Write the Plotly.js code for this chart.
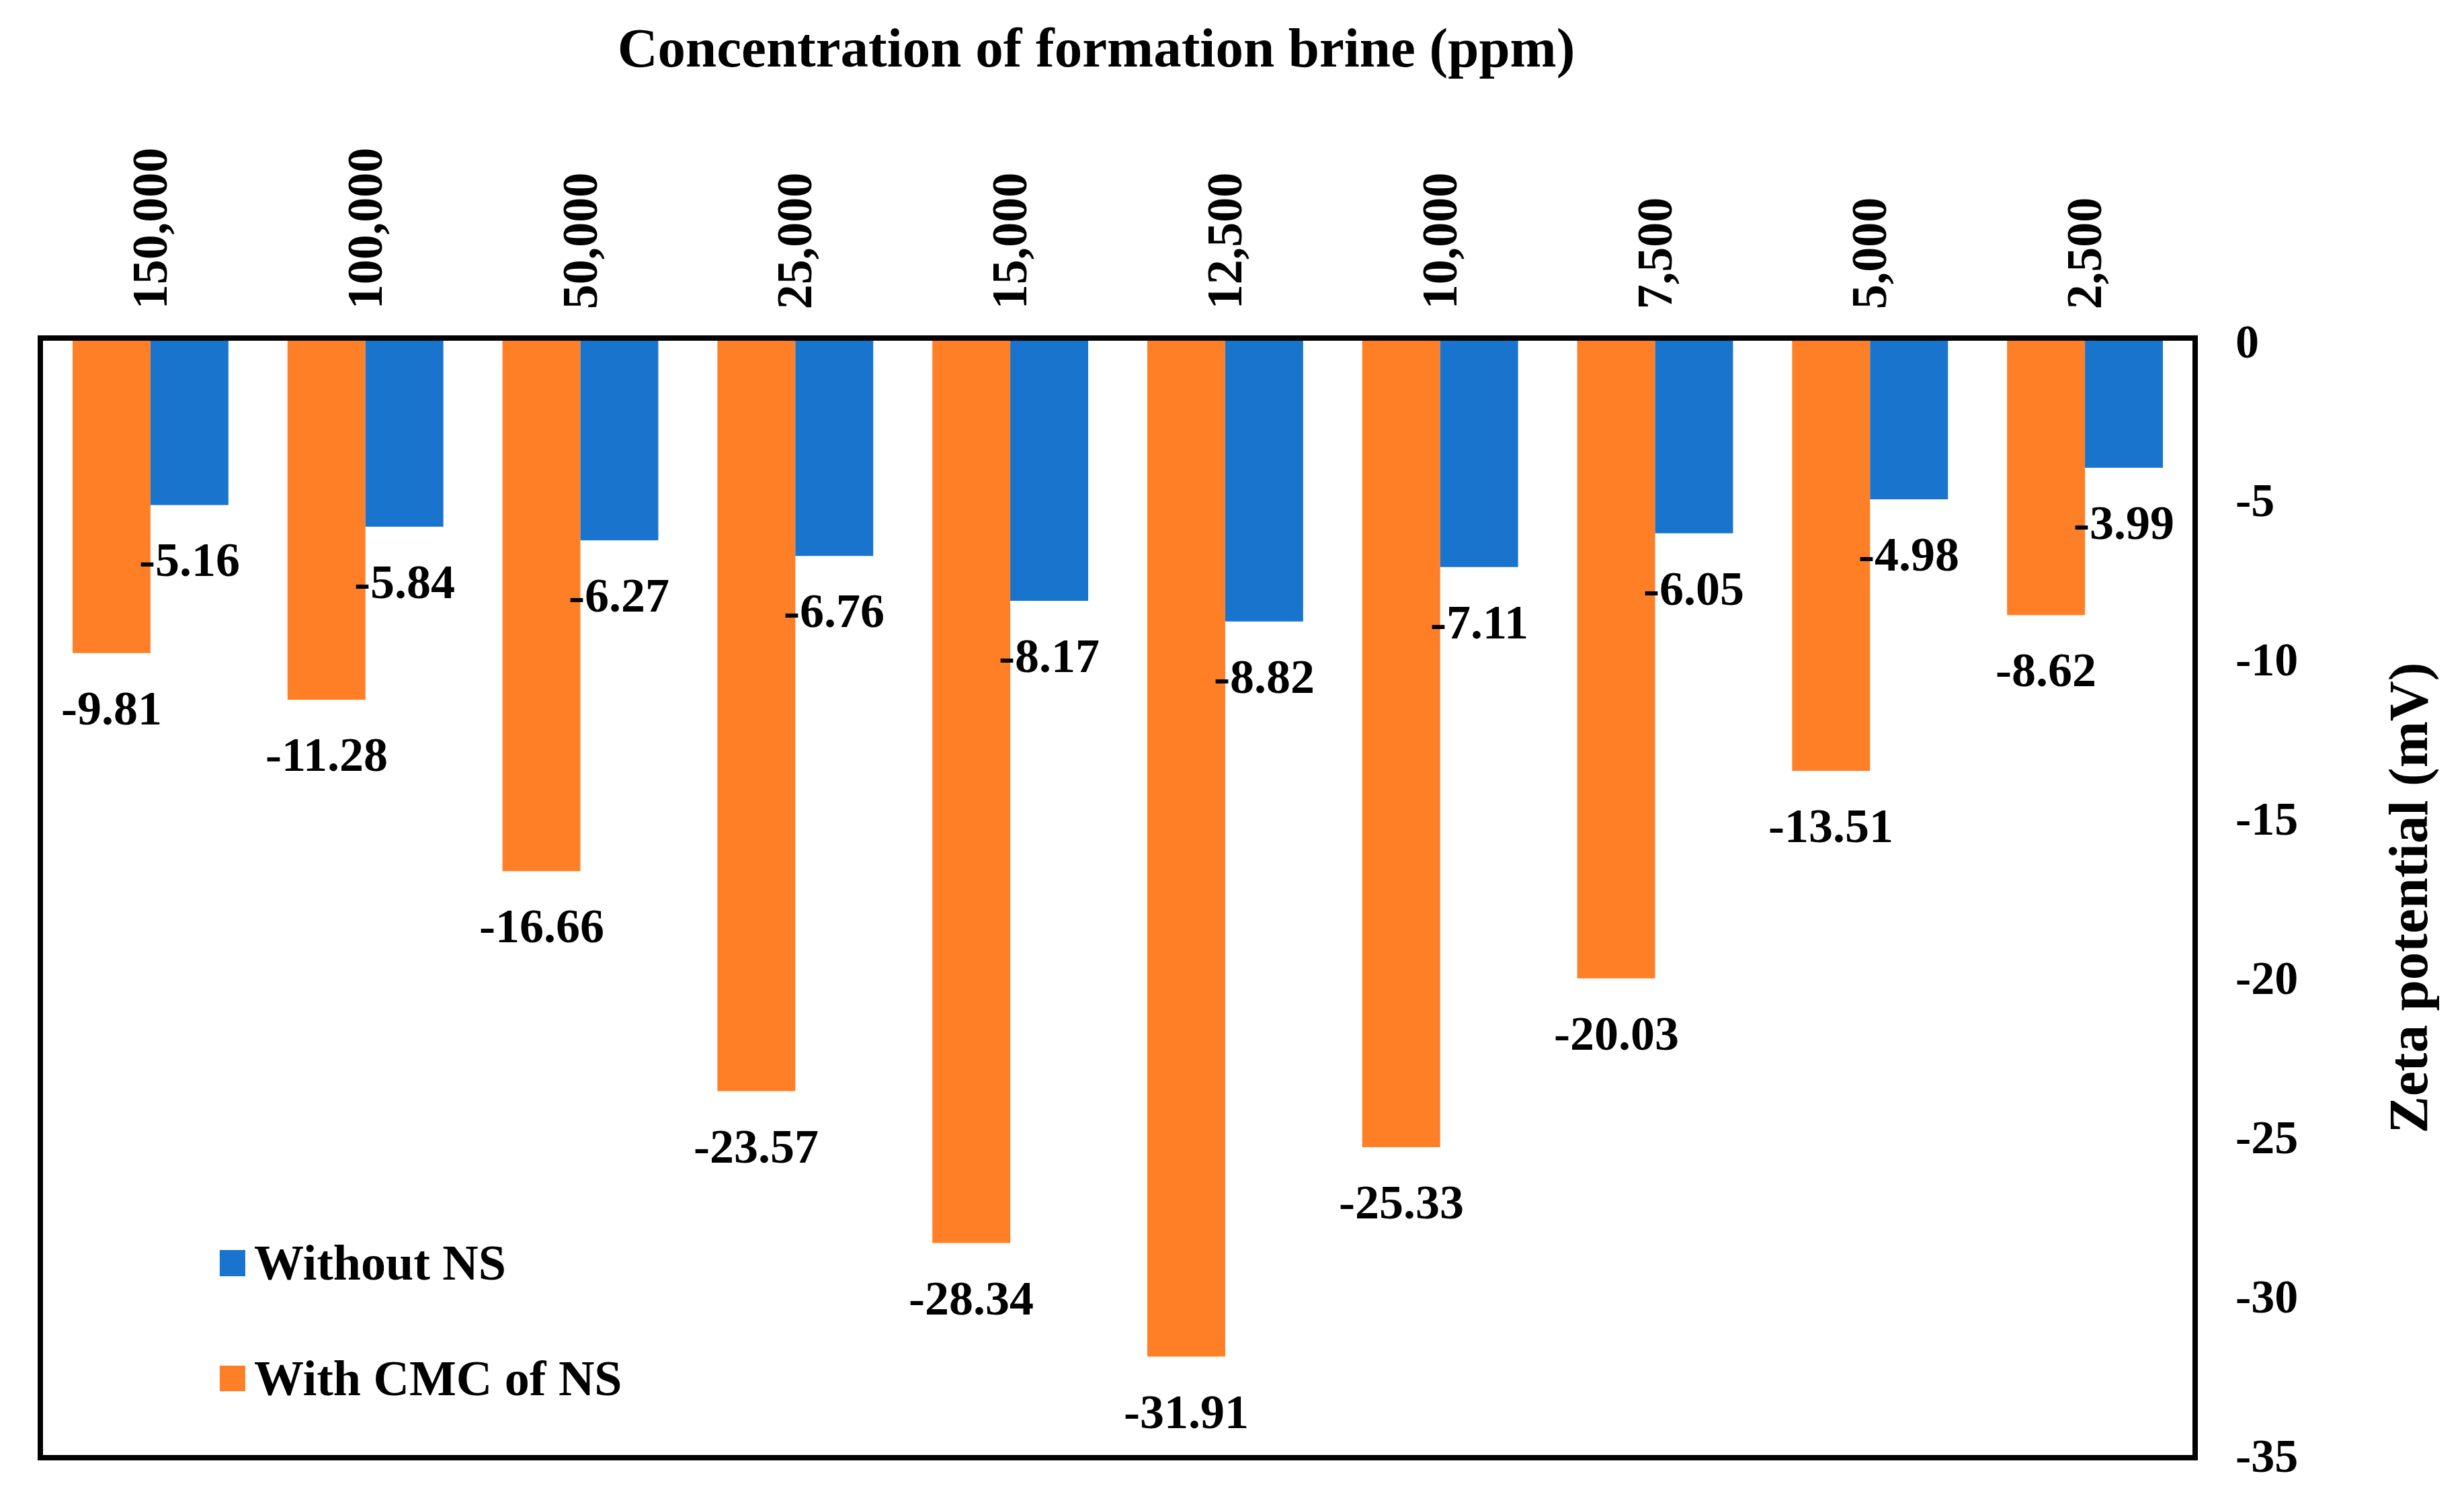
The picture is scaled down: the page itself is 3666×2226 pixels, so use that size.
<!DOCTYPE html>
<html>
<head>
<meta charset="utf-8">
<script src="https://cdn.plot.ly/plotly-3.0.1.min.js"></script>
<style>
  html, body { margin: 0; padding: 0; background: #fff; }
  #chart { width: 3666px; height: 2226px; }
</style>
</head>
<body>
<div id="chart"></div>
<script>
// ---- Data ----
const categories = ["150,000", "100,000", "50,000", "25,000", "15,000", "12,500", "10,000", "7,500", "5,000", "2,500"];
const withoutNS = [-5.16, -5.84, -6.27, -6.76, -8.17, -8.82, -7.11, -6.05, -4.98, -3.99];
const withCMC = [-9.81, -11.28, -16.66, -23.57, -28.34, -31.91, -25.33, -20.03, -13.51, -8.62];
const seriesNames = ["Without NS", "With CMC of NS"];
const yTickVals = [0, -5, -10, -15, -20, -25, -30, -35];
const yTickText = ["0", "-5", "-10", "-15", "-20", "-25", "-30", "-35"];

// ---- Style ----
const FONT = "Liberation Serif";
const BLUE = "#1874CD";
const ORANGE = "#FF7F27";
const BARGAP = 0.275;
const OFF = (1 - BARGAP) / 4;

const traces = [
  { type: "bar", name: seriesNames[1], x: categories, y: withCMC, marker: { color: ORANGE }, hoverinfo: "x+y" },
  { type: "bar", name: seriesNames[0], x: categories, y: withoutNS, marker: { color: BLUE }, hoverinfo: "x+y" }
];

const labelFont = { family: FONT, size: 72, color: "#000", weight: "bold" };
const annotations = [];
categories.forEach((c, i) => {
  annotations.push({ x: i - OFF, y: withCMC[i], xref: "x", yref: "y", text: withCMC[i].toFixed(2),
    showarrow: false, xanchor: "center", yanchor: "middle", yshift: -82, font: labelFont });
  annotations.push({ x: i + OFF, y: withoutNS[i], xref: "x", yref: "y", text: withoutNS[i].toFixed(2),
    showarrow: false, xanchor: "center", yanchor: "middle", yshift: -82, font: labelFont });
});

// custom legend (large square keys)
const legendFont = { family: FONT, size: 74, color: "#000", weight: "bold" };
const shapes = [
  { type: "rect", xref: "paper", yref: "paper", x0: 0.0822, x1: 0.0941, y0: 0.1604, y1: 0.1840, fillcolor: BLUE, line: { width: 0 } },
  { type: "rect", xref: "paper", yref: "paper", x0: 0.0822, x1: 0.0941, y0: 0.0573, y1: 0.0802, fillcolor: ORANGE, line: { width: 0 } }
];
annotations.push({ xref: "paper", yref: "paper", x: 0.0975, y: 0.1725, text: seriesNames[0], showarrow: false,
  xanchor: "left", yanchor: "middle", font: legendFont });
annotations.push({ xref: "paper", yref: "paper", x: 0.0975, y: 0.0688, text: seriesNames[1], showarrow: false,
  xanchor: "left", yanchor: "middle", font: legendFont });

const layout = {
  width: 3666, height: 2226,
  margin: { l: 64, r: 404, t: 507, b: 61, pad: 0 },
  paper_bgcolor: "#fff", plot_bgcolor: "#fff",
  font: { family: FONT, color: "#000" },
  showlegend: false,
  barmode: "group", bargap: BARGAP, bargroupgap: 0,
  title: { text: "Concentration of formation brine (ppm)", font: { family: FONT, size: 83, weight: "bold", color: "#000" },
    xref: "paper", x: 0.49, xanchor: "center", yref: "container", y: 1 - 70 / 2226, yanchor: "middle" },
  xaxis: {
    type: "category", side: "top", tickangle: -90,
    tickfont: { family: FONT, size: 74, weight: "bold", color: "#000" },
    showline: true, linecolor: "#000", linewidth: 8, mirror: true,
    showgrid: false, zeroline: false, ticks: "", ticklabelstandoff: 24
  },
  yaxis: {
    side: "right", range: [-35, 0], tickvals: yTickVals, ticktext: yTickText,
    tickfont: { family: FONT, size: 70, weight: "bold", color: "#000" },
    showline: true, linecolor: "#000", linewidth: 8, mirror: true,
    showgrid: false, zeroline: false, ticks: "", ticklabelstandoff: 42,
    title: { text: "Zeta potential (mV)", font: { family: FONT, size: 83, weight: "bold", color: "#000" }, standoff: 138 }
  },
  annotations: annotations,
  shapes: shapes
};

Plotly.newPlot("chart", traces, layout, { displayModeBar: false, staticPlot: true });
</script>
</body>
</html>
